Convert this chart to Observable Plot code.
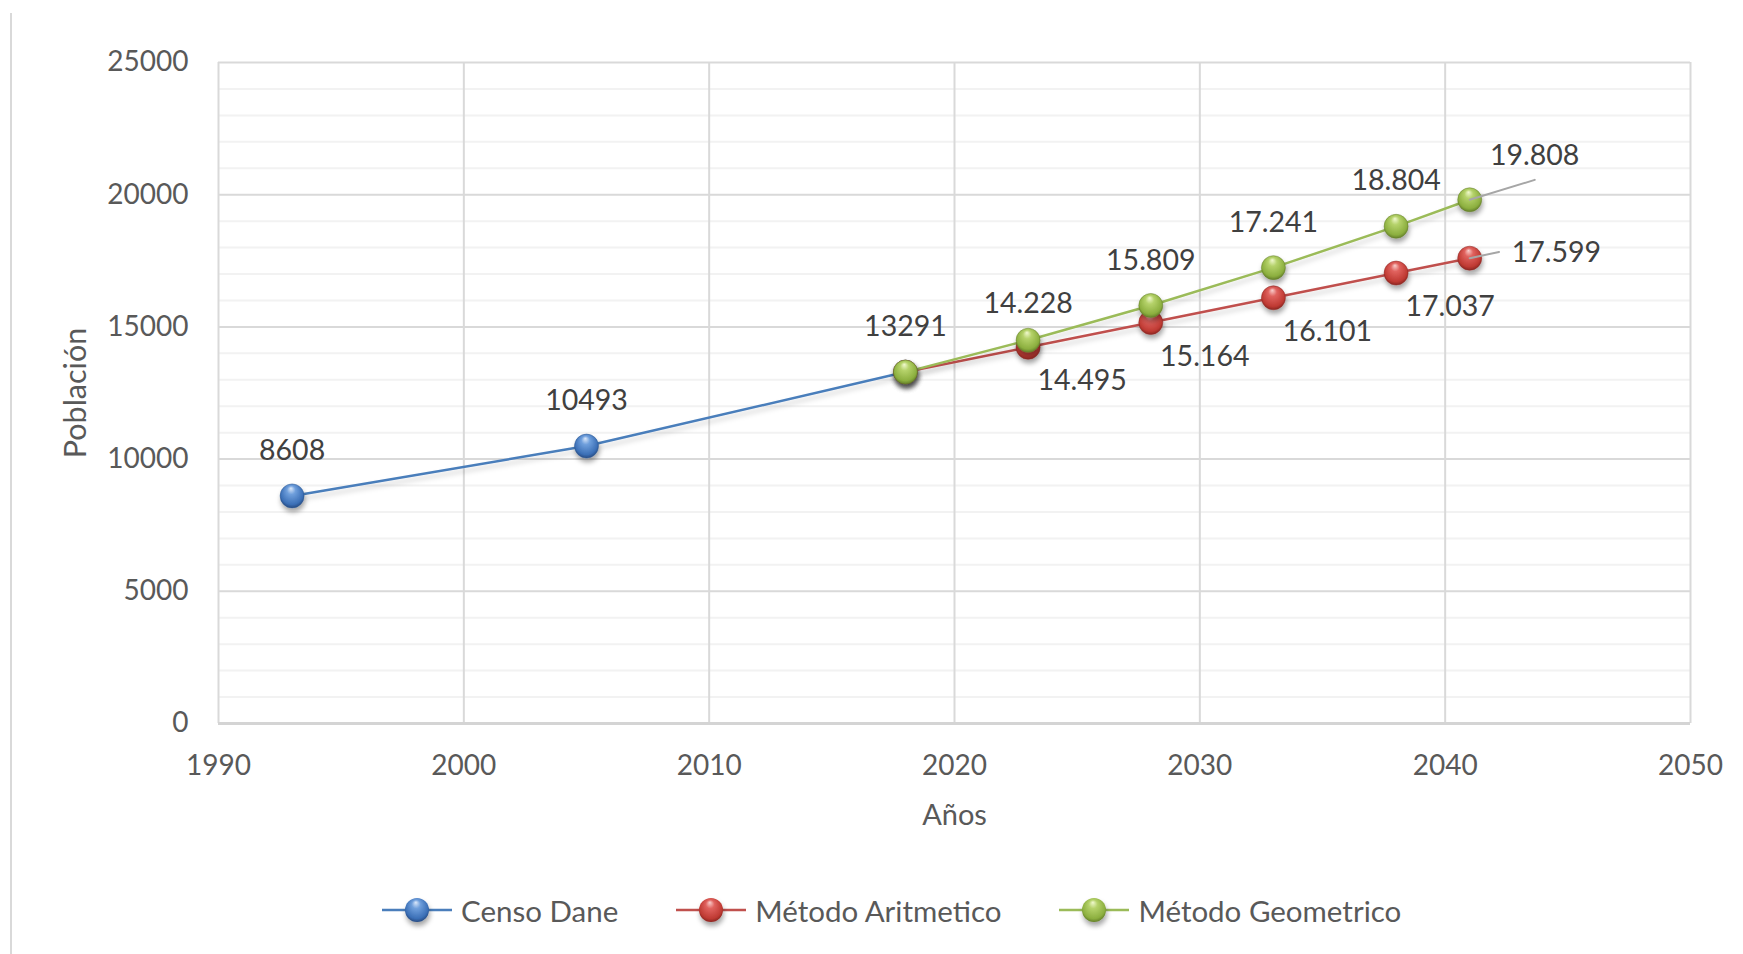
<!DOCTYPE html>
<html><head><meta charset="utf-8">
<script src="https://cdn.jsdelivr.net/npm/d3@7"></script>
<script src="https://cdn.jsdelivr.net/npm/@observablehq/plot@0.6"></script>
<style>
html,body{margin:0;padding:0;background:#fff;}
body{width:1743px;height:954px;position:relative;overflow:hidden;font-family:Lato,sans-serif;}
#border{position:absolute;left:10px;top:13px;bottom:0;border-left:2px solid #d9d9d9;}
#chart{position:absolute;left:0;top:0;}
#legend{position:absolute;left:382px;top:890px;height:40px;display:flex;align-items:center;font-size:29.5px;color:#595959;white-space:nowrap;}
.item{display:flex;align-items:center;margin-right:58px;}
.item svg{margin-right:9px;overflow:visible;}
</style></head><body>
<div id="border"></div><div id="chart"></div><div id="legend"></div>
<script>
// ---- data ----
const censoYears = [1993, 2005, 2018];
const censoValues = [8608, 10493, 13291];
const censoLabels = ["8608", "10493", "13291"];
const proyYears = [2018, 2023, 2028, 2033, 2038, 2041];
const aritValues = [13291, 14228, 15164, 16101, 17037, 17599];
const aritLabels = ["", "14.495", "15.164", "16.101", "17.037", "17.599"];
const geoValues = [13291, 14495, 15809, 17241, 18804, 19808];
const geoLabels = ["", "14.228", "15.809", "17.241", "18.804", "19.808"];
const seriesNames = ["Censo Dane", "Método Aritmetico", "Método Geometrico"];
const xTicks = [1990, 2000, 2010, 2020, 2030, 2040, 2050];
const yTicks = [0, 5000, 10000, 15000, 20000, 25000];
const yMinorTicks = [1000, 2000, 3000, 4000, 6000, 7000, 8000, 9000, 11000, 12000, 13000, 14000,
  16000, 17000, 18000, 19000, 21000, 22000, 23000, 24000];
const xTitle = "Años";
const yTitle = "Población";

// ---- styles ----
const lineColors = ["#4a7ebb", "#c0504d", "#9bbb59"];
const gradIds = ["gBlue", "gRed", "gGreen"];
const gradStops = [
  ["#dbe8fa", "#6f9fdc", "#3b6fb6", "#203f70"],
  ["#f9cfcd", "#e0625e", "#bf3a33", "#7a1f1b"],
  ["#f1f9cf", "#b5d26a", "#8caf3f", "#566f22"]
];

const censo = censoYears.map((y, i) => ({year: y, value: censoValues[i], label: censoLabels[i]}));
const arit = proyYears.map((y, i) => ({year: y, value: aritValues[i], label: aritLabels[i]}));
const geo = proyYears.map((y, i) => ({year: y, value: geoValues[i], label: geoLabels[i]}));
const lastYear = proyYears[proyYears.length - 1];
const firstProj = proyYears[1];

function defsMark() {
  const defs = d3.create("svg:defs");
  gradIds.forEach((id, k) => {
    const g = defs.append("radialGradient").attr("id", id)
      .attr("cx", "50%").attr("cy", "45%").attr("r", "60%").attr("fx", "45%").attr("fy", "18%");
    [0, 0.3, 0.78, 1].forEach((o, j) => g.append("stop").attr("offset", o).attr("stop-color", gradStops[k][j]));
  });
  const f = defs.append("filter").attr("id", "shadow").attr("x", "-50%").attr("y", "-50%").attr("width", "200%").attr("height", "200%");
  f.append("feDropShadow").attr("dx", 1).attr("dy", 4).attr("stdDeviation", 2.5).attr("flood-color", "#000").attr("flood-opacity", 0.35);
  const f2 = defs.append("filter").attr("id", "lshadow").attr("x", "-10%").attr("y", "-50%").attr("width", "120%").attr("height", "200%");
  f2.append("feDropShadow").attr("dx", 1).attr("dy", 4).attr("stdDeviation", 2.5).attr("flood-color", "#000").attr("flood-opacity", 0.18);
  return defs.node();
}

const leader = {draw(context, l) { context.moveTo(0, 0); context.lineTo(0, -l); }};
const FS = 28;

const plot = Plot.plot({
  width: 1743,
  height: 860,
  marginLeft: 218,
  marginRight: 53,
  marginTop: 62,
  marginBottom: 137,
  style: {fontFamily: "Lato, sans-serif", fontSize: FS + "px", color: "#595959", background: "transparent"},
  x: {domain: [1990, 2050]},
  y: {domain: [0, 25000]},
  marks: [
    defsMark,
    Plot.gridY(yMinorTicks, {stroke: "#f2f2f2", strokeOpacity: 1, strokeWidth: 2}),
    Plot.gridY(yTicks, {stroke: "#d9d9d9", strokeOpacity: 1, strokeWidth: 2}),
    Plot.gridX(xTicks, {stroke: "#d9d9d9", strokeOpacity: 1, strokeWidth: 2}),
    Plot.ruleY([0], {stroke: "#d4d4d4", strokeWidth: 3}),
    Plot.axisY({ticks: yTicks, tickSize: 0, tickPadding: 30, tickFormat: d => String(d), label: null, fontSize: FS, fill: "#595959"}),
    Plot.axisX({ticks: xTicks, tickSize: 0, tickPadding: 32, tickFormat: d => String(d), label: null, fontSize: FS, fill: "#595959"}),
    Plot.text([xTitle], {text: d => d, frameAnchor: "bottom", dy: 92, lineAnchor: "middle", fontSize: 29, fill: "#595959"}),
    Plot.text([yTitle], {text: d => d, frameAnchor: "left", dx: -142, rotate: -90, textAnchor: "middle", lineAnchor: "middle", fontSize: 30.5, fill: "#595959"}),
    // lines
    Plot.line(censo, {x: "year", y: "value", stroke: lineColors[0], strokeWidth: 2.5}),
    Plot.line(arit, {x: "year", y: "value", stroke: lineColors[1], strokeWidth: 2.5}),
    Plot.line(geo, {x: "year", y: "value", stroke: lineColors[2], strokeWidth: 2.5}),
    // dots
    Plot.dot(censo, {x: "year", y: "value", r: 12, fill: "url(#gBlue)", stroke: "#2f5a94", strokeWidth: 0.5}),
    Plot.dot(arit, {x: "year", y: "value", r: 12, fill: "url(#gRed)", stroke: "#8f2a26", strokeWidth: 0.5}),
    Plot.dot(geo, {x: "year", y: "value", r: 12, fill: "url(#gGreen)", stroke: "#66812c", strokeWidth: 0.5}),
    // leader lines
    Plot.vector(geo.filter(d => d.year === lastYear), {x: "year", y: "value", length: 68, rotate: 73, anchor: "start", shape: leader, stroke: "#a6a6a6", strokeWidth: 2}),
    Plot.vector(arit.filter(d => d.year === lastYear), {x: "year", y: "value", length: 30, rotate: 78, anchor: "start", shape: leader, stroke: "#a6a6a6", strokeWidth: 2}),
    // labels
    Plot.text(censo, {x: "year", y: "value", text: "label", dy: -45, lineAnchor: "middle", fontSize: 28.5, fill: "#404040"}),
    Plot.text(geo.filter(d => d.year === firstProj), {x: "year", y: "value", text: "label", dy: -36, lineAnchor: "middle", fontSize: 28.5, fill: "#404040"}),
    Plot.text(geo.filter(d => d.year > firstProj && d.year < lastYear), {x: "year", y: "value", text: "label", dy: -45, lineAnchor: "middle", fontSize: 28.5, fill: "#404040"}),
    Plot.text(geo.filter(d => d.year === lastYear), {x: "year", y: "value", text: "label", dx: 65, dy: -44, lineAnchor: "middle", fontSize: 28.5, fill: "#404040"}),
    Plot.text(arit.filter(d => d.year > proyYears[0] && d.year < lastYear), {x: "year", y: "value", text: "label", dx: 54, dy: 34, lineAnchor: "middle", fontSize: 28.5, fill: "#404040"}),
    Plot.text(arit.filter(d => d.year === lastYear), {x: "year", y: "value", text: "label", dx: 42, dy: -5, textAnchor: "start", lineAnchor: "middle", fontSize: 28.5, fill: "#404040"})
  ]
});

const svg = d3.select(plot);
svg.selectAll('g[aria-label="dot"]').attr("filter", "url(#shadow)");
svg.selectAll('g[aria-label="line"]').attr("filter", "url(#lshadow)");
document.getElementById("chart").appendChild(plot);

// legend
const legend = d3.select("#legend");
seriesNames.forEach((name, k) => {
  const item = legend.append("div").attr("class", "item");
  const s = item.append("svg").attr("width", 70).attr("height", 30);
  s.append("line").attr("x1", 0).attr("x2", 70).attr("y1", 15).attr("y2", 15).attr("stroke", lineColors[k]).attr("stroke-width", 2.5);
  s.append("circle").attr("cx", 35).attr("cy", 15).attr("r", 12).attr("fill", `url(#${gradIds[k]})`).attr("filter", "url(#shadow)");
  item.append("span").text(name);
});
</script>
</body></html>
